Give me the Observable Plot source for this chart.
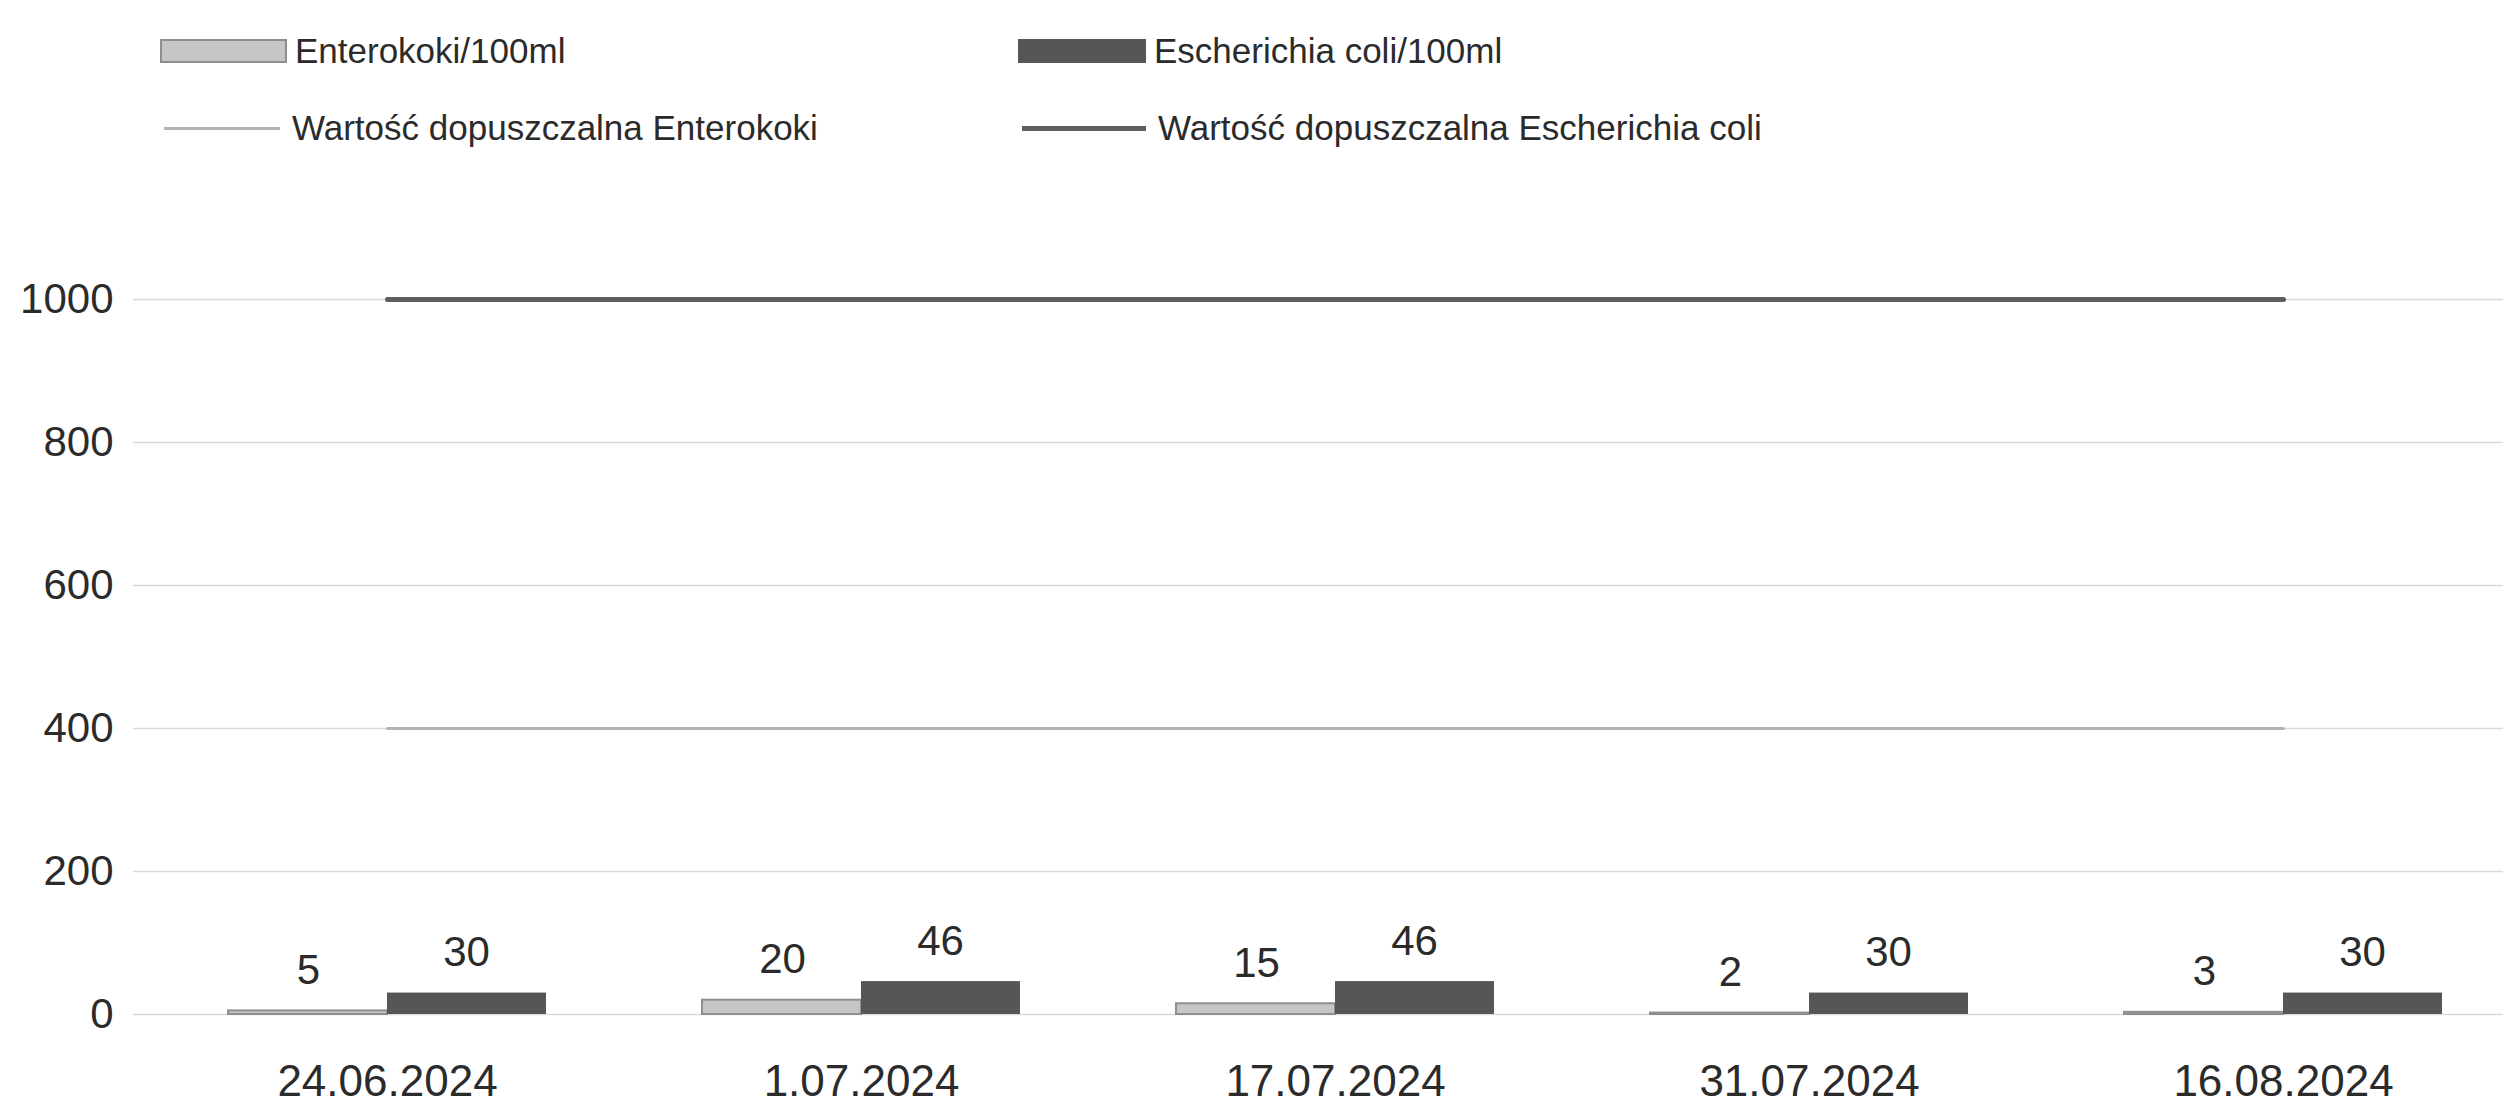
<!DOCTYPE html>
<html><head><meta charset="utf-8">
<script src="https://cdn.jsdelivr.net/npm/d3@7"></script>
<script src="https://cdn.jsdelivr.net/npm/@observablehq/plot@0.6"></script>
<style>
body{margin:0;background:#fff;font-family:"Liberation Sans",Arial,sans-serif;color:#2b2b2b}
#legend{position:relative;height:170px;width:2503px}
.item{position:absolute;display:flex;align-items:center;font-size:35px;white-space:nowrap;height:40px}
.sw{display:inline-block;box-sizing:border-box}
</style></head><body>
<div id="legend"></div>
<div id="chart"></div>
<script>
const dates = ["24.06.2024", "1.07.2024", "17.07.2024", "31.07.2024", "16.08.2024"];
const enterokoki = [5, 20, 15, 2, 3];
const ecoli = [30, 46, 46, 30, 30];
const limitEnterokoki = [400, 400, 400, 400, 400];
const limitEcoli = [1000, 1000, 1000, 1000, 1000];
const seriesNames = ["Enterokoki/100ml", "Escherichia coli/100ml", "Wartość dopuszczalna Enterokoki", "Wartość dopuszczalna Escherichia coli"];
const yTicks = [0, 200, 400, 600, 800, 1000];

const colEnt = "#c6c6c6", colEntStroke = "#8e8e8e", colEco = "#565656";
const colLimEnt = "#b4b4b4", colLimEco = "#5e5e5e";

// legend (HTML, above the SVG)
const legend = document.getElementById("legend");
const items = [
  {name: seriesNames[0], left: 160, top: 31, sw: `width:127px;height:24px;background:${colEnt};border:2px solid ${colEntStroke};margin-right:8px`},
  {name: seriesNames[1], left: 1018, top: 31, sw: `width:128px;height:24px;background:${colEco};margin-right:8px`},
  {name: seriesNames[2], left: 164, top: 108, sw: `width:116px;height:3px;background:${colLimEnt};margin-right:12px`},
  {name: seriesNames[3], left: 1022, top: 108, sw: `width:124px;height:5px;background:${colLimEco};margin-right:12px`}
];
for (const it of items) {
  const d = document.createElement("div");
  d.className = "item";
  d.style.left = it.left + "px";
  d.style.top = it.top + "px";
  const s = document.createElement("span");
  s.className = "sw";
  s.style.cssText = it.sw;
  d.appendChild(s);
  d.appendChild(document.createTextNode(it.name));
  legend.appendChild(d);
}

const rows = dates.map((date, i) => ({
  date, ent: enterokoki[i], eco: ecoli[i], limEnt: limitEnterokoki[i], limEco: limitEcoli[i]
}));

const chart = Plot.plot({
  width: 2503,
  height: 939,
  marginLeft: 150,
  marginRight: -17,
  marginTop: 129,
  marginBottom: 95,
  style: {fontFamily: "'Liberation Sans', Arial, sans-serif", background: "#fff", color: "#2b2b2b"},
  x: {domain: dates, padding: 0, label: null},
  y: {domain: [0, 1000], label: null},
  marks: [
    Plot.ruleY(yTicks, {stroke: "#dadada", strokeWidth: 1.5, insetLeft: -17}),
    Plot.axisY(yTicks, {tickSize: 0, tickPadding: 37, fontSize: 42, fill: "#2b2b2b", label: null, tickFormat: d => String(d)}),
    Plot.axisX({tickSize: 0, tickPadding: 50, fontSize: 44, fill: "#2b2b2b", label: null}),
    Plot.barY(rows, {x: "date", y: "ent", fill: colEnt, stroke: colEntStroke, strokeWidth: 2, insetLeft: 78, insetRight: 237}),
    Plot.barY(rows, {x: "date", y: "eco", fill: colEco, insetLeft: 237, insetRight: 78}),
    Plot.lineY(rows, {x: "date", y: "limEnt", stroke: colLimEnt, strokeWidth: 3}),
    Plot.lineY(rows, {x: "date", y: "limEco", stroke: colLimEco, strokeWidth: 5}),
    Plot.text(rows, {x: "date", y: "ent", text: d => String(d.ent), dx: -79, dy: -27, lineAnchor: "bottom", fontSize: 42, fill: "#2b2b2b"}),
    Plot.text(rows, {x: "date", y: "eco", text: d => String(d.eco), dx: 79, dy: -27, lineAnchor: "bottom", fontSize: 42, fill: "#2b2b2b"})
  ]
});
document.getElementById("chart").appendChild(chart);
</script>
</body></html>
